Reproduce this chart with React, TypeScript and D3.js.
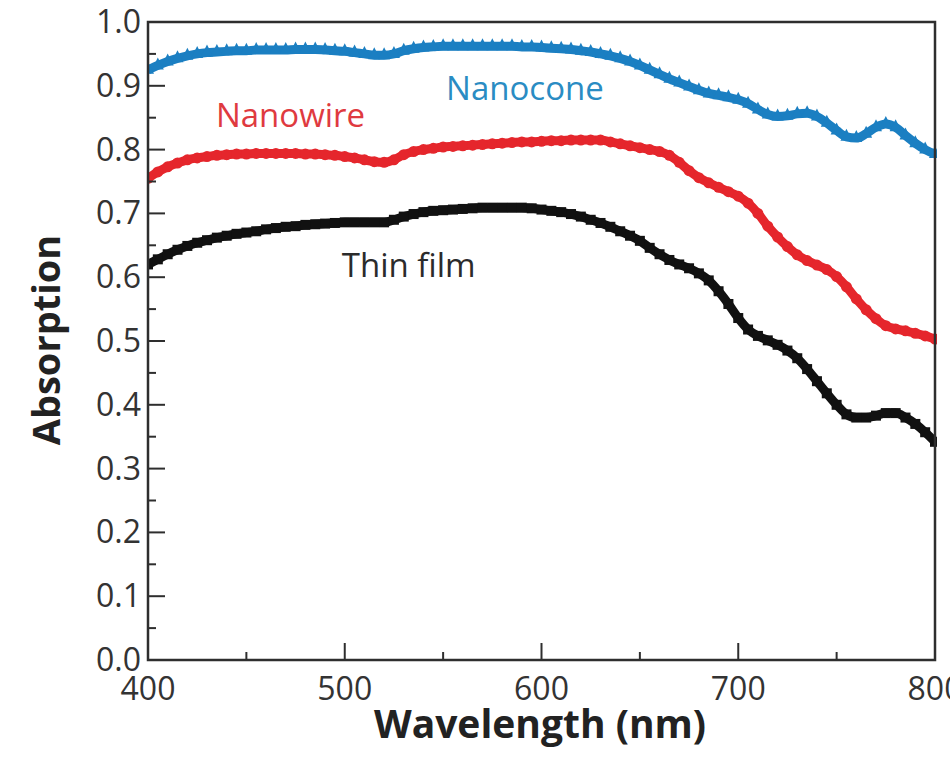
import React from "react";
import * as d3 from "d3";

const wavelengths: number[] = d3.range(400, 801, 5);

const nanocone: number[] = [
  0.925, 0.932, 0.938, 0.943, 0.947, 0.950, 0.952, 0.953, 0.954, 0.955,
  0.955, 0.956, 0.956, 0.956, 0.956, 0.957, 0.957, 0.957, 0.956, 0.955,
  0.954, 0.952, 0.950, 0.948, 0.948, 0.950, 0.955, 0.958, 0.960, 0.961,
  0.962, 0.962, 0.962, 0.962, 0.962, 0.962, 0.962, 0.962, 0.961, 0.961,
  0.960, 0.959, 0.958, 0.957, 0.955, 0.953, 0.950, 0.947, 0.943, 0.938,
  0.932, 0.925, 0.918, 0.911, 0.905, 0.899, 0.893, 0.888, 0.885, 0.882,
  0.878, 0.872, 0.863, 0.855, 0.852, 0.853, 0.856, 0.857, 0.852, 0.842,
  0.830, 0.820, 0.818, 0.825, 0.835, 0.840, 0.835, 0.822, 0.810, 0.800,
  0.793,
];

const nanowire: number[] = [
  0.755, 0.765, 0.773, 0.779, 0.784, 0.787, 0.789, 0.791, 0.792, 0.793,
  0.793, 0.794, 0.794, 0.794, 0.794, 0.794, 0.793, 0.793, 0.792, 0.791,
  0.789, 0.787, 0.784, 0.781, 0.780, 0.784, 0.792, 0.797, 0.800, 0.802,
  0.804, 0.805, 0.806, 0.807, 0.808, 0.809, 0.810, 0.811, 0.812, 0.812,
  0.813, 0.814, 0.814, 0.815, 0.815, 0.815, 0.815, 0.812, 0.809, 0.806,
  0.803, 0.800, 0.797, 0.791, 0.780, 0.767, 0.756, 0.748, 0.741, 0.734,
  0.727, 0.716, 0.700, 0.680, 0.663, 0.648, 0.635, 0.626, 0.619, 0.612,
  0.601, 0.585, 0.566, 0.549, 0.535, 0.524, 0.519, 0.516, 0.512, 0.508,
  0.503,
];

const thinFilm: number[] = [
  0.620, 0.628, 0.636, 0.643, 0.649, 0.654, 0.658, 0.662, 0.665, 0.668,
  0.670, 0.672, 0.675, 0.677, 0.679, 0.680, 0.682, 0.683, 0.684, 0.685,
  0.686, 0.686, 0.686, 0.686, 0.686, 0.690, 0.695, 0.699, 0.702, 0.704,
  0.705, 0.706, 0.707, 0.708, 0.709, 0.709, 0.709, 0.709, 0.709, 0.708,
  0.706, 0.704, 0.702, 0.699, 0.695, 0.690, 0.685, 0.679, 0.672, 0.665,
  0.657, 0.646, 0.636, 0.627, 0.620, 0.614, 0.606, 0.595, 0.578, 0.558,
  0.536, 0.518, 0.508, 0.501, 0.494, 0.485, 0.473, 0.456, 0.437, 0.418,
  0.400, 0.385, 0.380, 0.380, 0.383, 0.387, 0.387, 0.380, 0.370, 0.357,
  0.342,
];

const xTicks: number[] = [400, 500, 600, 700, 800];
const xMinorTicks: number[] = [450, 550, 650, 750];
const yTicks: number[] = d3.range(0, 1.0001, 0.1);
const yMinorTicks: number[] = d3.range(0.05, 1, 0.1);

const seriesNames: string[] = ["Nanocone", "Nanowire", "Thin film"];
const seriesColors: string[] = ["#1b7fc2", "#e5262c", "#111111"];
const labelColors: string[] = ["#2a8cc3", "#df3a40", "#2b2b2b"];
const markerTypes: string[] = ["triangle", "circle", "square"];

const W = 950;
const H = 760;
const m = { left: 148, right: 935, top: 22, bottom: 660 };

export default function App() {
  const x = d3.scaleLinear().domain([400, 800]).range([m.left, m.right]);
  const y = d3.scaleLinear().domain([0, 1]).range([m.bottom, m.top]);
  const allSeries = [nanocone, nanowire, thinFilm];
  const line = d3
    .line<number>()
    .x((_, i) => x(wavelengths[i]))
    .y((d) => y(d))
    .curve(d3.curveMonotoneX);

  const font = "'Open Sans', 'Noto Sans', sans-serif";
  const axisColor = "#2e2e2e";

  // label anchor (start) positions in data units
  const labelPos = [
    { wl: 551.5, v: 0.878 },
    { wl: 434.5, v: 0.836 },
    { wl: 498.5, v: 0.6 },
  ];

  const marker = (type: string, cx: number, cy: number, color: string, key: string) => {
    if (type === "triangle") {
      const s = 6;
      return (
        <path
          key={key}
          d={`M${cx},${cy - s - 2} L${cx + s},${cy + s - 2} L${cx - s},${cy + s - 2} Z`}
          fill={color}
        />
      );
    }
    if (type === "circle") {
      return <circle key={key} cx={cx} cy={cy} r={5.5} fill={color} />;
    }
    return <rect key={key} x={cx - 5} y={cy - 5} width={10} height={10} fill={color} />;
  };

  return (
    <svg
      width={W}
      height={H}
      style={{ position: "absolute", left: 0, top: 0, background: "#fff" }}
    >
      <defs>
        <clipPath id="plotclip">
          <rect x={m.left} y={m.top - 10} width={m.right - m.left + 2} height={m.bottom - m.top + 10} />
        </clipPath>
      </defs>

      <g clipPath="url(#plotclip)">
        {allSeries.map((s, si) => (
          <g key={si}>
            <path d={line(s) || ""} fill="none" stroke={seriesColors[si]} strokeWidth={9} />
            {s.map((v, i) =>
              marker(markerTypes[si], x(wavelengths[i]), y(v), seriesColors[si], `${si}-${i}`)
            )}
          </g>
        ))}
      </g>

      {/* frame */}
      <rect
        x={m.left}
        y={m.top}
        width={m.right - m.left}
        height={m.bottom - m.top}
        fill="none"
        stroke={axisColor}
        strokeWidth={2.5}
      />

      {/* x ticks */}
      {xTicks.map((t) => (
        <g key={`xt${t}`}>
          <line x1={x(t)} x2={x(t)} y1={m.bottom} y2={m.bottom - 17} stroke={axisColor} strokeWidth={2} />
          <text
            x={x(t)}
            y={m.bottom + 40}
            textAnchor="middle"
            fontFamily={font}
            fontSize={32}
            fill="#333"
          >
            {t}
          </text>
        </g>
      ))}
      {xMinorTicks.map((t) => (
        <line key={`xm${t}`} x1={x(t)} x2={x(t)} y1={m.bottom} y2={m.bottom - 8} stroke={axisColor} strokeWidth={2} />
      ))}

      {/* y ticks */}
      {yTicks.map((t) => (
        <g key={`yt${t.toFixed(1)}`}>
          <line x1={m.left} x2={m.left + 17} y1={y(t)} y2={y(t)} stroke={axisColor} strokeWidth={2} />
          <text
            x={m.left - 7}
            y={y(t) + 11}
            textAnchor="end"
            fontFamily={font}
            fontSize={32}
            fill="#333"
          >
            {t.toFixed(1)}
          </text>
        </g>
      ))}
      {yMinorTicks.map((t) => (
        <line key={`ym${t.toFixed(2)}`} x1={m.left} x2={m.left + 8} y1={y(t)} y2={y(t)} stroke={axisColor} strokeWidth={2} />
      ))}

      {/* series labels */}
      {seriesNames.map((n, i) => (
        <text
          key={n}
          x={x(labelPos[i].wl)}
          y={y(labelPos[i].v)}
          textAnchor="start"
          fontFamily={font}
          fontSize={33}
          fill={labelColors[i]}
        >
          {n}
        </text>
      ))}

      {/* axis titles */}
      <text
        x={540}
        y={738}
        textAnchor="middle"
        fontFamily={font}
        fontWeight="bold"
        fontSize={39}
        fill="#222"
      >
        Wavelength (nm)
      </text>
      <text
        transform={`translate(60, 340) rotate(-90)`}
        textAnchor="middle"
        fontFamily={font}
        fontWeight="bold"
        fontSize={38}
        fill="#222"
      >
        Absorption
      </text>
    </svg>
  );
}
